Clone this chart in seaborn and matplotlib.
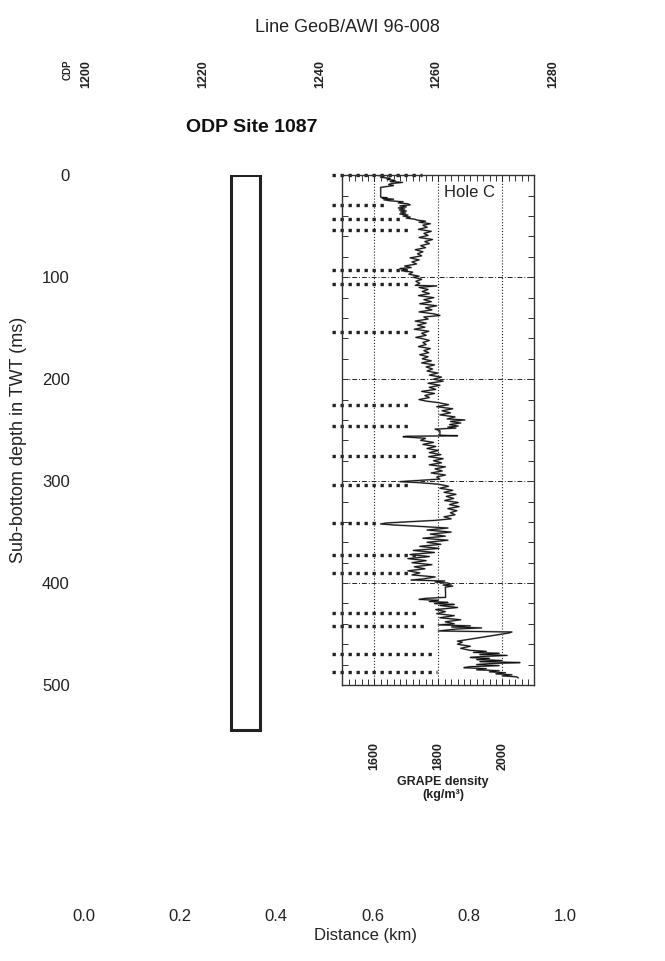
import matplotlib
matplotlib.use("Agg")
import matplotlib.pyplot as plt
import seaborn as sns
import pandas as pd
from matplotlib.patches import Rectangle
from matplotlib.ticker import FixedLocator, MultipleLocator

# GRAPE density log, Hole C
depth = [0, 1, 2, 3, 4, 5, 6, 7, 8, 9, 10, 11, 11.8, 21.5, 22, 22.5, 23.5, 24, 25, 26,
         27, 28, 29, 30, 31, 32, 33, 34, 35, 36, 37, 38, 39, 40, 41, 42, 43, 44, 45, 46,
         47.5, 49, 51, 53, 55, 57, 59, 61, 63, 65, 67, 69, 71, 73, 75, 77, 79, 81, 83, 85,
         87, 89, 90.5, 91.5, 92.5, 93.5, 95, 97, 99, 100, 102, 104, 106, 108, 108.5, 110, 112, 114, 116,
         118, 120, 122, 124, 126, 128, 130, 132, 134, 136, 137.5, 139, 141, 143, 145, 147, 149, 151, 153,
         155, 157, 159, 160, 162, 164, 166, 168, 170, 172, 174, 176, 178, 180, 182, 184, 186, 188,
         190, 192, 194, 196, 198, 200, 202, 204, 206, 208, 210, 212, 214, 216, 218, 220, 221.5, 223,
         225, 227, 229, 231, 233, 235, 237, 239, 240, 241.5, 243, 244.5, 246, 247, 248, 249, 250.5, 255,
         255.5, 256, 256.5, 258, 260, 262, 264, 266, 268, 270, 272, 274, 276, 278, 280, 282, 284, 286,
         288, 290, 292, 294, 296, 298, 299.5, 300.5, 301.5, 303, 305, 307, 309, 311, 313, 315, 317, 319,
         321, 323, 325, 327, 329, 331, 333, 335, 337, 338.5, 340, 341, 342, 343, 344, 346, 348, 350,
         352, 354, 356, 358, 360, 362, 364, 366, 368, 370, 372, 374, 376, 378, 380, 382, 384, 386,
         388, 390, 392, 394, 396, 397, 398, 399, 400, 401, 402, 403, 404, 414, 415, 416, 417, 418,
         419, 420, 421, 422, 424, 426, 428, 430, 432, 434, 436, 438, 440, 441, 442, 443, 444, 445,
         447, 448, 449, 457, 458, 460, 462, 464, 466, 467, 468, 469, 470, 471, 472, 473, 474, 475,
         476, 477, 478, 479, 480, 481, 482, 483, 484, 485, 486, 487, 488, 489, 490, 491, 492, 493]
density = [1610, 1630, 1620, 1650, 1640, 1665, 1650, 1688, 1655, 1645, 1660, 1640, 1620, 1620, 1640, 1625, 1660, 1630, 1650, 1690,
           1675, 1705, 1712, 1680, 1700, 1675, 1695, 1678, 1700, 1682, 1698, 1680, 1705, 1690, 1712, 1700, 1725, 1735, 1760, 1740,
           1775, 1752, 1765, 1738, 1778, 1755, 1768, 1740, 1782, 1758, 1772, 1745, 1760, 1728, 1752, 1735, 1748, 1712, 1740, 1718,
           1732, 1695, 1715, 1680, 1700, 1685, 1720, 1708, 1740, 1722, 1748, 1730, 1742, 1728, 1795, 1740, 1768, 1750, 1772,
           1738, 1786, 1755, 1778, 1742, 1795, 1760, 1780, 1740, 1788, 1805, 1755, 1768, 1728, 1762, 1735, 1758, 1725, 1770,
           1748, 1762, 1730, 1748, 1772, 1752, 1762, 1738, 1775, 1755, 1770, 1742, 1768, 1750, 1778, 1748, 1788, 1762,
           1782, 1765, 1798, 1772, 1810, 1785, 1815, 1768, 1805, 1772, 1792, 1748, 1788, 1758, 1772, 1740, 1762, 1800,
           1832, 1795, 1845, 1812, 1838, 1805, 1852, 1828, 1883, 1838, 1870, 1835, 1862, 1830, 1855, 1790, 1805, 1805,
           1860, 1700, 1690, 1760, 1745, 1785, 1752, 1792, 1765, 1800, 1772, 1808, 1770, 1815, 1785, 1810, 1772, 1822,
           1790, 1812, 1778, 1822, 1795, 1805, 1730, 1680, 1740, 1800, 1832, 1805, 1845, 1818, 1855, 1825, 1848, 1820,
           1862, 1835, 1865, 1830, 1858, 1838, 1852, 1818, 1840, 1790, 1700, 1640, 1620, 1660, 1720, 1830, 1765, 1840,
           1775, 1822, 1752, 1830, 1765, 1808, 1742, 1802, 1722, 1788, 1712, 1772, 1705, 1762, 1718, 1780, 1725, 1758,
           1705, 1742, 1718, 1790, 1752, 1715, 1820, 1790, 1830, 1840, 1815, 1845, 1822, 1823, 1760, 1740, 1800, 1772,
           1830, 1788, 1850, 1805, 1860, 1792, 1822, 1795, 1850, 1805, 1870, 1822, 1850, 1800, 1900, 1842, 1935, 1860,
           1800, 2030, 2020, 1860, 1875, 1860, 1900, 1870, 1900, 1950, 1910, 1990, 1930, 2015, 1940, 1900, 1960, 1920,
           2000, 1930, 2055, 1960, 1920, 1990, 1900, 1880, 1950, 1920, 1990, 1960, 2010, 1980, 2030, 2000, 2045, 2050]

# core breaks: depth (ms) and density where each dotted bar ends
break_depth = [0, 29, 43, 54, 93, 106.5, 154, 225, 246, 275, 304, 341, 372.5, 390, 429, 442.5, 469.5, 487.5]
break_end = [1750, 1643, 1690, 1714, 1706, 1709, 1712, 1712, 1706, 1733, 1709, 1618, 1733, 1709, 1733, 1758, 1780, 1795]
break_start = 1468

# site marker on the distance axis
site_dist = [0.306, 0.366]
site_depth = [0, 544]

dist_ticks = [0.0, 0.2, 0.4, 0.6, 0.8, 1.0]
depth_ticks = [0, 100, 200, 300, 400, 500]
cdp_ticks = [1200, 1220, 1240, 1260, 1280]
density_ticks = [1600, 1800, 2000]

sns.set_theme(style="white")
plt.rcParams["font.family"] = ["Liberation Sans", "DejaVu Sans"]

W, H = 665, 961
fig = plt.figure(figsize=(W / 100, H / 100), dpi=100)

# main frame: distance vs sub-bottom depth
ax = fig.add_axes([83.6 / W, 1 - 905 / H, (565 - 83.6) / W, (905 - 175.3) / H])
ax.set_xlim(0, 1.0)
ax.set_ylim(715.4, 0)
for s in ax.spines.values():
    s.set_visible(False)
ax.set_xticks(dist_ticks)
ax.set_xticklabels([f"{v:.1f}" for v in dist_ticks])
ax.set_yticks(depth_ticks)
ax.tick_params(length=0, labelsize=12, colors="#222")
ax.tick_params(axis="y", pad=10)
ax.tick_params(axis="x", pad=3)
ax.set_xlabel("Distance (km)", fontsize=12, color="#222")
ax.xaxis.set_label_coords((366 - 83.6) / (565 - 83.6), -0.031)
ax.set_ylabel("Sub-bottom depth in TWT (ms)", fontsize=13, color="#222")
ax.yaxis.set_label_coords(-0.118, 0.637)

ax.add_patch(Rectangle((site_dist[0], site_depth[0]), site_dist[1] - site_dist[0],
                       site_depth[1] - site_depth[0], fill=False, lw=2.2, ec="#222"))

# CDP axis on top
axt = ax.twiny()
axt.set_xlim(1199.5, 1282)
axt.set_xticks(cdp_ticks)
axt.tick_params(axis="x", length=0, pad=63, labelsize=9, labelrotation=90, colors="#222")
for lab in axt.get_xticklabels():
    lab.set_fontweight("bold")
for s in axt.spines.values():
    s.set_visible(False)

fig.text(68 / W, 1 - 70 / H, "CDP", rotation=90, fontsize=7, fontweight="bold",
         ha="center", va="center", color="#222")
fig.text(347 / W, 1 - 27 / H, "Line GeoB/AWI 96-008", fontsize=13, ha="center", va="center", color="#222")
fig.text(252 / W, 1 - 127 / H, "ODP Site 1087", fontsize=14, fontweight="bold",
         ha="center", va="center", color="#111")

# GRAPE density panel
ax2 = fig.add_axes([342.3 / W, 1 - 685 / H, 192 / W, 509.7 / H])
log = pd.DataFrame({"depth": depth, "density": density})
sns.lineplot(data=log, x="density", y="depth", sort=False, estimator=None,
             color="#9a9a9a", lw=1.3, ax=ax2)
sns.lineplot(data=log, x="density", y="depth", sort=False, estimator=None,
             color="#111", lw=0.7, ax=ax2)
ax2.set_xlim(1500, 2100)
ax2.set_ylim(500, 0)
ax2.xaxis.set_major_locator(FixedLocator(density_ticks))
ax2.xaxis.set_minor_locator(MultipleLocator(20))
ax2.yaxis.set_major_locator(MultipleLocator(100))
ax2.yaxis.set_minor_locator(MultipleLocator(20))
ax2.tick_params(which="both", direction="in", top=True, right=True, bottom=True, left=True,
                length=4, width=0.7, color="#333")
ax2.tick_params(axis="y", labelleft=False)
ax2.tick_params(axis="x", pad=41, labelsize=9, labelrotation=90, colors="#222")
for lab in ax2.get_xticklabels():
    lab.set_fontweight("bold")
ax2.grid(axis="x", which="major", ls=":", color="#222", lw=0.8)
ax2.grid(axis="y", which="major", ls=(0, (5, 2, 1, 2)), color="#222", lw=0.7)
for s in ax2.spines.values():
    s.set_color("#333")
    s.set_linewidth(1.0)
ax2.set_ylabel("")
ax2.set_xlabel("GRAPE density\n(kg/m³)", fontsize=9, fontweight="bold", color="#222", linespacing=1.1)
ax2.xaxis.set_label_coords(0.524, -0.178)

for d, e in zip(break_depth, break_end):
    ax2.plot([break_start, e], [d, d], ls=(0, (1, 1.4)), lw=2.4, color="#222",
             clip_on=False, dash_capstyle="butt")

ax2.text(1818, 17, "Hole C", fontsize=12, va="center", color="#222")

fig.savefig("out.png", dpi=100)
